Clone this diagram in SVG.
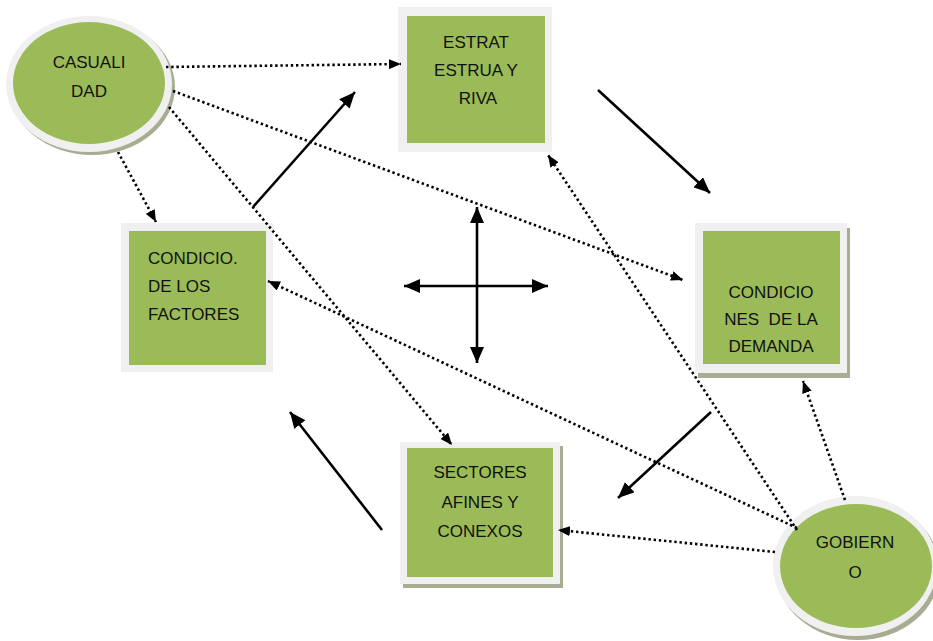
<svg xmlns="http://www.w3.org/2000/svg" width="933" height="641" viewBox="0 0 933 641">
<defs>
<style>
.frame{fill:#f0f0f0}
.green{fill:#9bbb59}
.shadow{fill:#a7ad92}
.t{font-family:"Liberation Sans",Arial,sans-serif;font-size:17px;fill:#111;white-space:pre}
.solid{stroke:#000;stroke-width:2.6;fill:none}
.dot{stroke:#000;stroke-width:2.6;fill:none;stroke-dasharray:2.4 2.8}
</style>
<marker id="big" viewBox="0 0 16 14" refX="16" refY="7" markerWidth="16" markerHeight="14" markerUnits="userSpaceOnUse" orient="auto-start-reverse">
<path d="M0,0 L16,7 L0,14 z" fill="#000"/>
</marker>
<marker id="small" viewBox="0 0 12 10" refX="12" refY="5" markerWidth="12" markerHeight="10" markerUnits="userSpaceOnUse" orient="auto">
<path d="M0,0 L12,5 L0,10 z" fill="#000"/>
</marker>
</defs>
<rect width="933" height="641" fill="#fff"/>

<g id="casualidad">
<ellipse class="shadow" cx="92" cy="87" rx="83" ry="68"/>
<ellipse class="frame" cx="89" cy="84" rx="83" ry="68"/>
<ellipse class="green" cx="89" cy="83" rx="76" ry="61"/>
<text class="t" x="89" y="68" text-anchor="middle">CASUALI</text>
<text class="t" x="89" y="97" text-anchor="middle">DAD</text>
</g>

<g id="estrategia">
<rect class="frame" x="398" y="7" width="154" height="145"/>
<rect class="green" x="407" y="16" width="138" height="127"/>
<text class="t" x="476" y="48" text-anchor="middle">ESTRAT</text>
<text class="t" x="476" y="76" text-anchor="middle">ESTRUA Y</text>
<text class="t" x="478" y="104" text-anchor="middle">RIVA</text>
</g>

<g id="factores">
<rect class="frame" x="121" y="223" width="152" height="149"/>
<rect class="green" x="129" y="231" width="137" height="134"/>
<text class="t" x="148" y="264">CONDICIO.</text>
<text class="t" x="148" y="292">DE LOS</text>
<text class="t" x="148" y="320">FACTORES</text>
</g>

<g id="demanda">
<rect class="shadow" x="698" y="228" width="152" height="150"/>
<rect class="frame" x="695" y="223" width="152" height="150"/>
<rect class="green" x="703" y="231" width="137" height="133"/>
<text class="t" x="771" y="298" text-anchor="middle">CONDICIO</text>
<text class="t" x="771" y="325" text-anchor="middle" xml:space="preserve">NES  DE LA</text>
<text class="t" x="771" y="352" text-anchor="middle">DEMANDA</text>
</g>

<g id="sectores">
<rect class="shadow" x="403" y="446" width="160" height="142"/>
<rect class="frame" x="400" y="442" width="160" height="142"/>
<rect class="green" x="407" y="448" width="146" height="129"/>
<text class="t" x="480" y="478" text-anchor="middle">SECTORES</text>
<text class="t" x="480" y="508" text-anchor="middle">AFINES Y</text>
<text class="t" x="480" y="537" text-anchor="middle">CONEXOS</text>
</g>

<g id="gobierno">
<ellipse class="shadow" cx="858" cy="570" rx="82" ry="70"/>
<ellipse class="frame" cx="855" cy="566" rx="82" ry="70"/>
<ellipse class="green" cx="856" cy="566" rx="76" ry="62"/>
<text class="t" x="855" y="548" text-anchor="middle">GOBIERN</text>
<text class="t" x="855" y="578" text-anchor="middle">O</text>
</g>

<g id="connectors">
<line class="solid" x1="253" y1="207" x2="355" y2="92" marker-end="url(#big)"/>
<line class="solid" x1="598" y1="90" x2="710" y2="193" marker-end="url(#big)"/>
<line class="solid" x1="711" y1="412" x2="618" y2="498" marker-end="url(#big)"/>
<line class="solid" x1="382" y1="530" x2="290" y2="412" marker-end="url(#big)"/>
<line class="solid" x1="404" y1="286" x2="548" y2="286" marker-start="url(#big)" marker-end="url(#big)"/>
<line class="solid" x1="477" y1="207" x2="477" y2="363" marker-start="url(#big)" marker-end="url(#big)"/>

<line class="dot" x1="166" y1="67" x2="401" y2="64" marker-end="url(#small)"/>
<line class="dot" x1="173" y1="91" x2="683" y2="280" marker-end="url(#small)"/>
<line class="dot" x1="118" y1="152" x2="156" y2="222" marker-end="url(#small)"/>
<line class="dot" x1="169" y1="107" x2="452" y2="445" marker-end="url(#small)"/>
<line class="dot" x1="797" y1="530" x2="548" y2="155" marker-end="url(#small)"/>
<line class="dot" x1="797" y1="528" x2="268" y2="281" marker-end="url(#small)"/>
<line class="dot" x1="775" y1="552" x2="558" y2="530" marker-end="url(#small)"/>
<line class="dot" x1="845" y1="500" x2="803" y2="381" marker-end="url(#small)"/>
</g>
</svg>
